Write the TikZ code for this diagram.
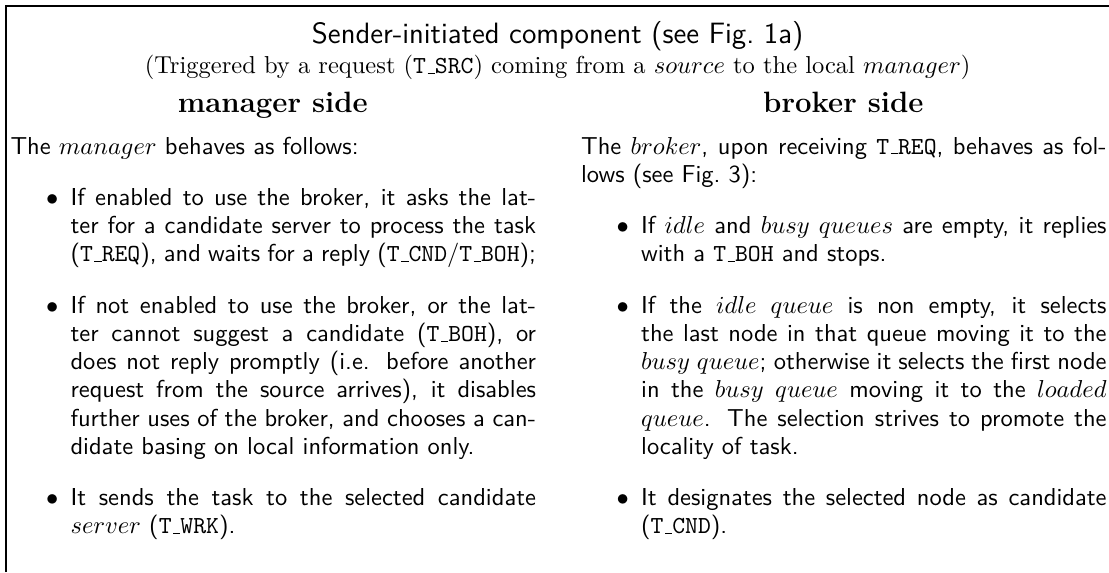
\documentclass[tikz,border=0pt]{standalone}
\usepackage{tikz}
% old-style rule underscore for the message names
\newcommand{\tus}{\leavevmode\kern.06em\vbox{\hrule width.3em}}
\newcommand{\msg}[1]{\texttt{T\tus #1}}
\newcommand{\colpar}[2]{\vtop{\hsize=#1\parindent=0pt\tolerance=9999\hyphenpenalty=10000\sffamily\baselineskip=11.5pt\noindent #2\par}}
\newcommand{\dotmark}{\llap{$\bullet$\hskip5pt}}

\begin{document}
\begin{tikzpicture}[
 frame/.style={draw=black,line width=0.95pt},
 head/.style={anchor=base,inner sep=0pt,font=\large\bfseries},
 body/.style={anchor=base west,inner sep=0pt}]
\useasboundingbox (0,0) rectangle (15.91,8.207);
\draw[frame] (0.086,0) -- (0.086,8.12) -- (15.91,8.12);
\node[anchor=base,inner sep=0pt,font=\large\sffamily] (title) at (8.0,7.588) {Sender-initiated component (see Fig.~1a)};
\node[anchor=base,inner sep=0pt] (trigger) at (8.0,7.146) {(Triggered by a request (\msg{SRC}) coming from a $source$ to the local $manager$)};
\node[head] (mgrhead) at (3.914,6.59) {manager side};
\node[head] (brkhead) at (12.099,6.59) {broker side};
% manager side
\node[body] (mgrintro) at (0.144,5.996) {\colpar{214.5pt}{The $manager$ behaves as follows:}};
\node[body] (mgrask) at (1.005,5.258) {\colpar{190pt}{\dotmark If enabled to use the broker, it asks the lat-\break ter for a candidate server to process the task\break (\msg{REQ}), and waits for a reply (\msg{CND}/\msg{BOH});}};
\node[body] (mgrlocal) at (1.005,3.712) {\colpar{190pt}{\dotmark If not enabled to use the broker, or the lat-\break ter cannot suggest a candidate (\msg{BOH}), or\break does not reply promptly (i.e. before another\break request from the source arrives), it disables\break further uses of the broker, and chooses a can-\break didate basing on local information only.}};
\node[body] (mgrsend) at (1.005,0.953) {\colpar{190pt}{\dotmark It sends the task to the selected candidate\break $server$ (\msg{WRK}).}};
% broker side
\node[body] (brkintro) at (8.33,5.996) {\colpar{214.5pt}{The $broker$, upon receiving \msg{REQ}, behaves as fol-\break lows (see Fig.~3):}};
\node[body] (brkempty) at (9.191,4.854) {\colpar{190pt}{\dotmark If $idle$ and $busy$ $queues$ are empty, it replies\break with a \msg{BOH} and stops.}};
\node[body] (brkpick) at (9.191,3.712) {\colpar{190pt}{\dotmark If the $idle$ $queue$ is non empty, it selects\break the last node in that queue moving it to the\break $busy$ $queue$; otherwise it selects the first node\break in the $busy$ $queue$ moving it to the $loaded$\break $queue$. The selection strives to promote the\break locality of task.}};
\node[body] (brkcand) at (9.191,0.953) {\colpar{190pt}{\dotmark It designates the selected node as candidate\break (\msg{CND}).}};
\end{tikzpicture}
\end{document}
